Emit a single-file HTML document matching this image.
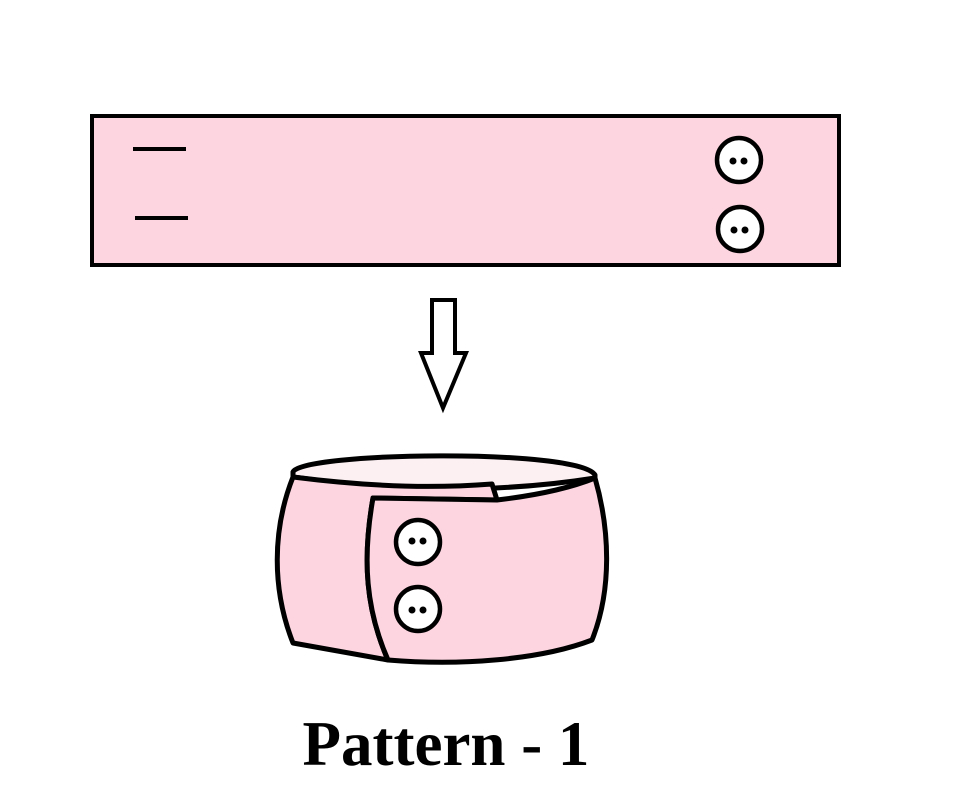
<!DOCTYPE html>
<html><head><style>
html,body{margin:0;padding:0;background:#fff;width:955px;height:802px;overflow:hidden}
svg{position:absolute;left:0;top:0}
</style></head><body>
<svg width="955" height="802" viewBox="0 0 955 802">
<rect x="92" y="116" width="747" height="149" stroke="#000" stroke-width="4" fill="#fdd5e0"/>
<g stroke="#000" stroke-width="4">
<line x1="133" y1="149" x2="186" y2="149"/>
<line x1="135" y1="218" x2="188" y2="218"/>
</g>
<g stroke="#000" stroke-width="4.5" fill="#fff">
<circle cx="739" cy="160" r="22"/>
<circle cx="740" cy="229" r="22"/>
</g>
<g fill="#000">
<circle cx="733" cy="161" r="3.5"/><circle cx="744" cy="161" r="3.5"/>
<circle cx="734" cy="230" r="3.5"/><circle cx="745" cy="230" r="3.5"/>
</g>
<path d="M432,300 H455 V353 H466 L443,408 L421,353 H432 Z" fill="#fff" stroke="#000" stroke-width="4" stroke-linejoin="miter"/>
<g stroke="#000" stroke-width="5" stroke-linejoin="round">
<path d="M293,472 C300,452 580,448 595,475 L595,478 C520,490 420,495 293,477 Z" fill="#fdf0f3"/>
<path d="M293,477 C380,488 440,488 492,484 L497,500 L373,498 C362,560 366,610 388,660 L293,643 C272,590 272,530 293,477 Z" fill="#fdd5e0"/>
<path d="M373,498 L497,500 C540,495 570,488 595,478 C610,530 612,590 592,640 C540,660 460,666 388,660 C366,610 362,560 373,498 Z" fill="#fdd5e0"/>
</g>
<g stroke="#000" stroke-width="4.5" fill="#fff">
<circle cx="418" cy="542" r="22"/>
<circle cx="418" cy="609" r="22"/>
</g>
<g fill="#000">
<circle cx="412" cy="541" r="3.5"/><circle cx="423" cy="541" r="3.5"/>
<circle cx="412" cy="610" r="3.5"/><circle cx="423" cy="610" r="3.5"/>
</g>
<text x="446" y="765" text-anchor="middle" font-family="Liberation Serif, serif" font-weight="bold" font-size="63" fill="#000">Pattern - 1</text>
</svg>
</body></html>
